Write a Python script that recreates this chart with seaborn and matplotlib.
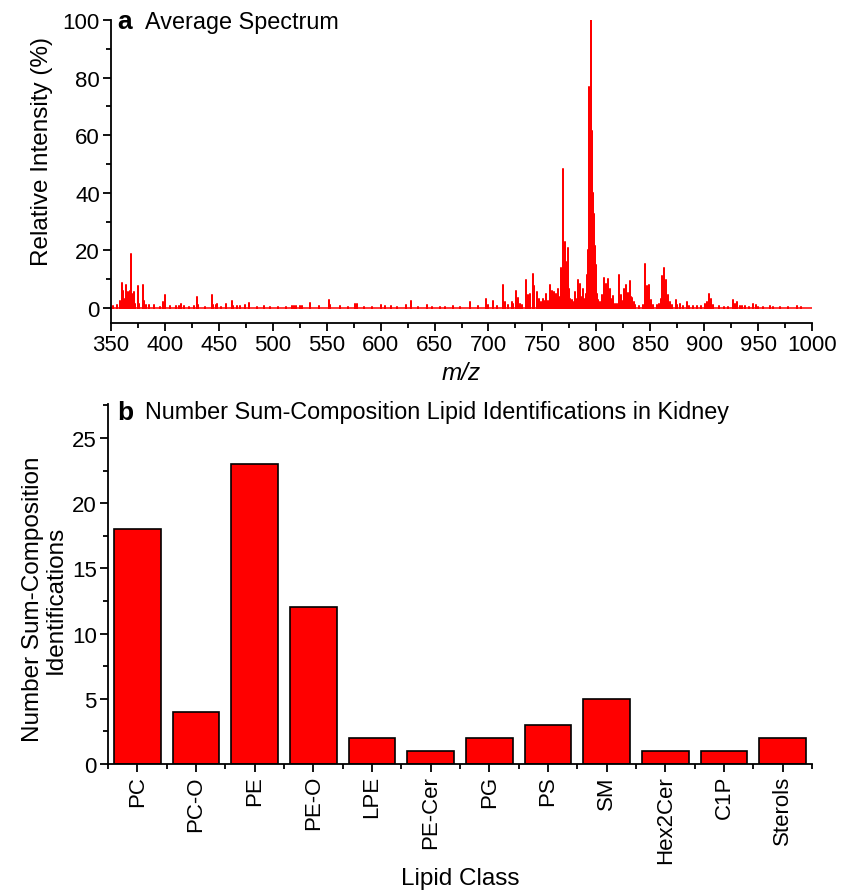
import numpy as np
import pandas as pd
import matplotlib
matplotlib.use("Agg")
import matplotlib.pyplot as plt
import seaborn as sns
from matplotlib.ticker import MultipleLocator, FixedLocator

# ---------------- data ----------------
peak_mz = [352, 356, 358, 360, 361.5, 362.5, 364, 365, 366, 367, 368, 369, 370, 371, 372, 375, 376,
           380, 380.8, 382, 385, 390, 395, 398, 400, 405, 410, 413, 415, 418, 422, 427, 430, 431, 437,
           444, 445, 447, 448.6, 452, 457, 462, 463, 467, 470, 474, 478, 485, 492, 497, 505, 512, 518,
           520, 522, 525, 527, 534.5, 542.6, 552, 553, 562, 570, 576, 577.8, 585, 592, 600, 604, 610,
           615, 624, 628, 635, 642.7, 648, 655, 660, 667.4, 674, 683, 690, 698, 700, 704.5, 708, 713.8,
           715.3, 718, 721.5, 723, 725.2, 727.1, 729, 731, 734.8, 736.7, 738.5, 741, 742.5, 744.7, 746,
           747.2, 748.5, 750.3, 752, 753.3, 755, 757, 758.6, 760.8, 762.6, 764.8, 766, 767, 768, 769.1,
           770, 770.7, 771.9, 772.6, 773.4, 774.9, 776, 777.1, 778.5, 780.2, 781.5, 783.3, 784.9, 786,
           787.4, 789, 790, 791.1, 792, 792.9, 793.5, 793.8, 794.5, 795.1, 795.7, 796.3, 797, 797.6,
           798.2, 798.8, 799.3, 799.7, 800.5, 801.9, 803, 805, 806, 807.1, 808, 809, 810, 811.1, 812,
           812.7, 814, 815.2, 817, 819, 821, 822, 822.9, 824, 825.4, 826.5, 827.5, 828.3, 829.1, 830,
           831.2, 832, 833.1, 834.5, 836, 840, 843, 845.1, 846.7, 847.8, 849.1, 850.7, 853, 856, 858,
           860, 861.2, 862, 863.1, 863.8, 864.6, 865.5, 866.2, 868.3, 870, 873.6, 875, 877.6, 880,
           883.8, 886, 889.9, 893, 897, 900.8, 903, 904.8, 906, 908, 914, 918, 922, 926.4, 928.6,
           930.7, 933.2, 935, 937.9, 942, 945.6, 947.8, 950, 955, 961, 964.1, 970, 978, 985.8, 990, 1000]
peak_int = [0.8, 1.2, 2.5, 8.6, 6.0, 3.0, 8.0, 3.5, 5.5, 5.4, 6.0, 18.7, 5.0, 5.5, 1.5, 7.8, 1.5,
            7.9, 2.5, 1.2, 1.2, 1.0, 0.5, 2.2, 4.5, 0.6, 0.8, 0.8, 1.5, 0.6, 0.5, 0.8, 3.7, 1.2, 0.5,
            4.7, 1.2, 1.2, 1.5, 0.4, 1.5, 2.4, 0.8, 0.6, 0.6, 1.2, 1.7, 0.5, 0.8, 0.5, 0.4, 0.4, 0.6,
            0.8, 0.8, 0.6, 0.6, 1.6, 0.8, 2.9, 1.0, 0.6, 0.5, 1.5, 1.5, 0.5, 0.4, 1.0, 0.6, 0.8,
            0.4, 1.2, 2.3, 0.4, 1.0, 0.5, 0.5, 0.4, 0.6, 0.5, 2.0, 0.6, 3.2, 1.0, 2.3, 0.8, 8.1,
            2.0, 1.2, 2.0, 1.5, 5.8, 3.5, 1.5, 1.2, 9.9, 4.5, 4.8, 11.9, 7.6, 5.6, 2.5,
            3.3, 2.0, 3.3, 2.5, 4.8, 2.5, 8.1, 5.8, 5.6, 5.0, 6.7, 4.0, 13.9, 5.0, 48.4,
            10.0, 22.9, 16.0, 8.0, 20.8, 6.7, 3.0, 2.8, 2.0, 5.6, 3.0, 9.9, 8.4, 4.0,
            6.7, 3.0, 5.0, 11.6, 20.0, 76.7, 40.0, 44.9, 60.0, 100.0, 55.0, 61.3, 40.0, 32.7,
            25.0, 21.7, 15.0, 11.5, 5.0, 2.8, 2.0, 4.5, 3.0, 10.4, 5.0, 8.4, 4.0, 10.2, 5.0,
            6.7, 3.0, 4.1, 1.5, 1.5, 11.5, 3.0, 4.5, 2.5, 6.5, 4.0, 8.1, 4.0, 5.3, 4.0,
            9.3, 4.0, 3.5, 2.0, 1.0, 0.8, 1.0, 15.4, 7.6, 2.0, 8.1, 2.8, 1.0, 1.0, 1.5,
            3.0, 11.3, 8.0, 13.9, 8.0, 9.6, 4.0, 4.5, 2.0, 1.0, 2.8, 1.0, 1.5, 0.8,
            2.0, 0.8, 0.9, 0.6, 0.6, 1.5, 2.0, 5.0, 3.3, 1.0, 0.7, 0.5, 0.5, 2.8, 1.5,
            2.0, 0.9, 0.6, 0.7, 0.5, 1.5, 1.2, 0.5, 0.4, 0.7, 0.5, 0.4, 0.3, 0.7, 0.3, 0.2]

lipid_classes = ["PC", "PC-O", "PE", "PE-O", "LPE", "PE-Cer", "PG", "PS", "SM", "Hex2Cer", "C1P", "Sterols"]
lipid_counts = [18, 4, 23, 12, 2, 1, 2, 3, 5, 1, 1, 2]

# ---------------- style ----------------
sns.set_theme(style="ticks")
plt.rcParams['font.family'] = ['Liberation Sans', 'DejaVu Sans']
plt.rcParams['axes.linewidth'] = 1.3
plt.rcParams['text.color'] = 'black'
plt.rcParams['axes.labelcolor'] = 'black'
plt.rcParams['xtick.color'] = 'black'
plt.rcParams['ytick.color'] = 'black'
plt.rcParams['axes.edgecolor'] = 'black'

RED = "#FF0000"
TICK_FS = 16
LABEL_FS = 17.5

fig = plt.figure(figsize=(8.46, 8.95), dpi=100)
ax1 = fig.add_axes([111 / 846, 1 - 323.5 / 895, 701 / 846, 302.5 / 895])
ax2 = fig.add_axes([108 / 846, 1 - 765 / 895, 704 / 846, 360 / 895])

# ---------------- spectrum (stick profile) ----------------
mz = np.asarray(peak_mz, dtype=float)
inten = np.asarray(peak_int, dtype=float)
prof_x = np.concatenate([[350.0], np.repeat(mz, 3), [1000.0]])
prof_y = np.concatenate([[0.0], np.column_stack([np.zeros_like(inten), inten, np.zeros_like(inten)]).ravel(), [0.0]])
prof = pd.DataFrame({"mz": prof_x, "int": prof_y})
sns.lineplot(data=prof, x="mz", y="int", sort=False, estimator=None, color=RED,
             linewidth=1.1, ax=ax1)

ax1.set_xlim(350, 1000)
ax1.set_ylim(-5, 100)
ax1.xaxis.set_major_locator(MultipleLocator(50))
ax1.xaxis.set_minor_locator(MultipleLocator(25))
ax1.yaxis.set_major_locator(MultipleLocator(20))
ax1.yaxis.set_minor_locator(MultipleLocator(10))
ax1.set_xlabel("m/z", fontsize=LABEL_FS, style="italic")
ax1.set_ylabel("Relative Intensity (%)", fontsize=LABEL_FS)
ax1.yaxis.set_label_coords(-0.083, 0.57)
ax1.xaxis.set_label_coords(0.5, -0.128)

# ---------------- bar chart ----------------
sns.barplot(x=lipid_classes, y=lipid_counts, color=RED, saturation=1, width=0.8,
            edgecolor="black", linewidth=1.2, ax=ax2)
ax2.set_xlim(-0.5, len(lipid_classes) - 0.5)
ax2.set_ylim(0, 27.6)
ax2.yaxis.set_major_locator(MultipleLocator(5))
ax2.yaxis.set_minor_locator(MultipleLocator(2.5))
ax2.xaxis.set_minor_locator(FixedLocator(np.arange(-0.5, len(lipid_classes), 1.0)))
ax2.tick_params(axis="x", which="major", labelrotation=90)
ax2.set_xlabel("Lipid Class", fontsize=LABEL_FS)
ax2.set_ylabel("Number Sum-Composition\nIdentifications", fontsize=LABEL_FS, linespacing=1.05)
ax2.yaxis.set_label_coords(-0.058, 0.46)
ax2.xaxis.set_label_coords(0.5, -0.285)

for ax in (ax1, ax2):
    sns.despine(ax=ax)
    ax.tick_params(which="major", direction="out", length=6, width=1.3, labelsize=TICK_FS,
                   colors="black", pad=2)
    ax.tick_params(which="minor", direction="out", length=3.5, width=1.3, colors="black")
    for s in ("left", "bottom"):
        ax.spines[s].set_color("black")

# ---------------- panel titles ----------------
fig.text(117 / 846, 1 - 22 / 895, "a", fontsize=19, fontweight="bold", va="center", ha="left", color="black")
fig.text(145 / 846, 1 - 22 / 895, "Average Spectrum", fontsize=16.8, va="center", ha="left", color="black")
fig.text(117 / 846, 1 - 413 / 895, "b", fontsize=19, fontweight="bold", va="center", ha="left", color="black")
fig.text(145 / 846, 1 - 413 / 895, "Number Sum-Composition Lipid Identifications in Kidney",
         fontsize=16.8, va="center", ha="left", color="black")

fig.savefig("out.png", dpi=100)
